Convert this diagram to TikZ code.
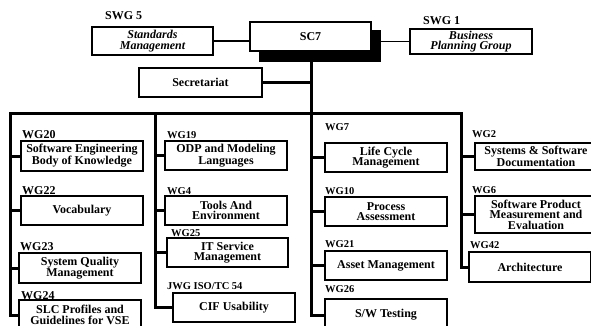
\documentclass[tikz,border=0pt]{standalone}
\usepackage{fontspec}
\setmainfont{Liberation Serif}

\begin{document}
\begin{tikzpicture}[x=1pt, y=-1pt,
  wgbox/.style={draw, line width=1.3pt, fill=white, inner sep=0pt,
    minimum width=122pt, minimum height=29pt, align=center,
    font=\fontsize{12}{10.5}\selectfont\bfseries},
  swgbox/.style={wgbox, font=\fontsize{12}{10.5}\selectfont\bfseries\itshape},
  wglabel/.style={anchor=base west, inner sep=0pt,
    font=\fontsize{10.5}{12}\selectfont\bfseries},
  biglabel/.style={wglabel, font=\fontsize{12}{14}\selectfont\bfseries},
  bus/.style={line width=3pt},
  link/.style={line width=1.5pt}]
  \useasboundingbox (0,0) rectangle (591,326);

  \coordinate (top) at (311,61);
  \coordinate (busL) at (10,114);
  \coordinate (busM) at (155,114);
  \coordinate (busR) at (461,114);

  %% group labels
  \node[biglabel] (swg5l) at (105,20) {SWG 5};
  \node[biglabel] (swg1l) at (423,25) {SWG 1};
  \node[biglabel] (wg20l) at (22,138) {WG20};
  \node[biglabel] (wg22l) at (22,194) {WG22};
  \node[biglabel] (wg23l) at (20,250) {WG23};
  \node[biglabel] (wg24l) at (21,299) {WG24};
  \node[wglabel] (wg19l) at (167,138) {WG19};
  \node[wglabel] (wg4l) at (167,194) {WG4};
  \node[wglabel] (wg25l) at (171,236) {WG25};
  \node[wglabel] (jwgl) at (167,289) {JWG ISO/TC 54};
  \node[wglabel] (wg7l) at (325,130) {WG7};
  \node[wglabel] (wg10l) at (325,194) {WG10};
  \node[wglabel] (wg21l) at (325,247) {WG21};
  \node[wglabel] (wg26l) at (325,292) {WG26};
  \node[wglabel] (wg2l) at (472,137) {WG2};
  \node[wglabel] (wg6l) at (472,193) {WG6};
  \node[wglabel] (wg42l) at (470,248) {WG42};

  %% SC7 and its groups
  \node[wgbox, fill=black, minimum width=120pt, minimum height=30pt] (sc7sh) at (320,46) {};
  \node[wgbox, minimum width=121pt] (sc7) at (310.5,36.5) {SC7};
  \node[swgbox, minimum width=121pt, minimum height=28pt] (std) at (152.5,41) {Standards\\Management};
  \node[swgbox, minimum height=25pt] (swg1) at (471,41.5) {Business\\Planning Group};
  \node[wgbox, minimum width=123pt] (sec) at (200.5,82.5) {Secretariat};

  %% working groups
  \node[wgbox, minimum height=30pt] (wg20) at (82,156) {Software Engineering\\Body of Knowledge};
  \node[wgbox] (wg22) at (82,210.5) {Vocabulary};
  \node[wgbox, minimum height=30pt] (wg23) at (80,268) {System Quality\\Management};
  \node[wgbox, minimum height=30pt] (wg24) at (80,315) {SLC Profiles and\\Guidelines  for VSE};
  \node[wgbox] (wg19) at (226,155.5) {ODP and Modeling\\Languages};
  \node[wgbox] (wg4) at (226,210.5) {Tools And\\Environment};
  \node[wgbox, minimum width=121pt] (wg25) at (227.5,252.5) {IT Service\\Management};
  \node[wgbox] (jwg) at (234,307.5) {CIF Usability};
  \node[wgbox] (wg7) at (386,157.5) {Life Cycle\\Management};
  \node[wgbox] (wg10) at (386,211.5) {Process\\Assessment};
  \node[wgbox] (wg21) at (386,265.5) {Asset Management};
  \node[wgbox, minimum height=32pt] (wg26) at (386,315) {S/W Testing};
  \node[wgbox, minimum height=27pt] (wg2) at (536,156.5) {Systems \&  Software\\Documentation};
  \node[wgbox, minimum height=37pt] (wg6) at (536,214.5) {Software Product\\Measurement and\\Evaluation};
  \node[wgbox, minimum height=30pt] (wg42) at (530,267) {Architecture};

  %% connections
  \draw[link] (std.east) -- (std.east -| sc7.west);
  \draw[link] (swg1.west) -- (swg1.west -| sc7sh.east);
  \draw[bus] (sec.east) -- (sec.east -| top);
  \draw[bus] (top) |- (wg26.west);
  \draw[bus] (wg24.west) -| (busL) -- (busR) |- (wg42.west);
  \draw[bus] (busM) |- (jwg.west);
  \draw[bus] (wg20.west) -- (wg20.west -| busL);
  \draw[bus] (wg22.west) -- (wg22.west -| busL);
  \draw[bus] (wg23.west) -- (wg23.west -| busL);
  \draw[bus] (wg19.west) -- (wg19.west -| busM);
  \draw[bus] (wg4.west) -- (wg4.west -| busM);
  \draw[bus] (wg25.west) -- (wg25.west -| busM);
  \draw[bus] (wg7.west) -- (wg7.west -| top);
  \draw[bus] (wg10.west) -- (wg10.west -| top);
  \draw[bus] (wg21.west) -- (wg21.west -| top);
  \draw[bus] (wg2.west) -- (wg2.west -| busR);
  \draw[bus] (wg6.west) -- (wg6.west -| busR);

\end{tikzpicture}
\end{document}
